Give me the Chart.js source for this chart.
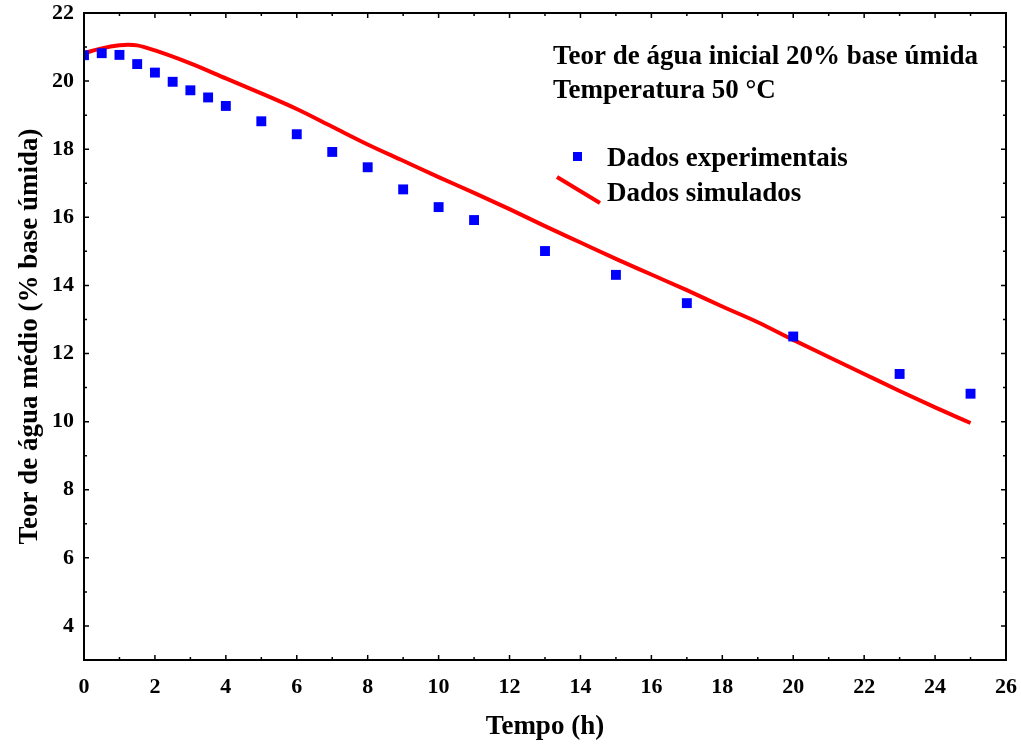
<!DOCTYPE html>
<html>
<head>
<meta charset="utf-8">
<script src="https://cdn.jsdelivr.net/npm/chart.js@4.4.1/dist/chart.umd.min.js"></script>
<style>
  html, body { margin: 0; padding: 0; background: #fff; }
  #wrap { width: 1021px; height: 744px; }
</style>
</head>
<body>
<div id="wrap"><canvas id="myChart" width="1021" height="744"></canvas></div>
<script>
// experimental points
var expTime = [0, 0.5, 1, 1.5, 2, 2.5, 3, 3.5, 4, 5, 6, 7, 8, 9, 10, 11, 13, 15, 17, 20, 23, 25];
var expMoisture = [20.76, 20.82, 20.77, 20.50, 20.25, 19.98, 19.73, 19.52, 19.27, 18.82, 18.44, 17.92, 17.47, 16.82, 16.30, 15.92, 15.01, 14.31, 13.48, 12.50, 11.40, 10.82];

// simulated curve
var simTime = [0, 0.5, 1, 1.25, 1.5, 2, 3, 4, 5, 6, 7, 8, 9, 10, 11, 12, 13, 14, 15, 16, 17, 18, 19, 20, 21, 22, 23, 24, 25];
var simMoisture = [20.82, 20.96, 21.05, 21.07, 21.05, 20.90, 20.52, 20.08, 19.64, 19.18, 18.66, 18.14, 17.66, 17.18, 16.72, 16.24, 15.74, 15.26, 14.78, 14.32, 13.86, 13.38, 12.92, 12.40, 11.90, 11.40, 10.90, 10.42, 9.96];

var xTicks = [0, 2, 4, 6, 8, 10, 12, 14, 16, 18, 20, 22, 24, 26];
var yTicks = [4, 6, 8, 10, 12, 14, 16, 18, 20, 22];

var seriesNames = ["Dados experimentais", "Dados simulados"];
var infoLines = ["Teor de água inicial 20% base úmida", "Temperatura 50 °C"];

var serif = "'Liberation Serif', 'Times New Roman', serif";

function toXY(xs, ys) {
  return xs.map(function (v, i) { return { x: v, y: ys[i] }; });
}

// box, inward ticks, info text and legend
var frame = {
  id: "frame",
  afterDatasetsDraw: function (chart) {
    var ctx = chart.ctx;
    var a = chart.chartArea;
    var sx = chart.scales.x;
    var sy = chart.scales.y;
    ctx.save();
    ctx.strokeStyle = "#000";
    ctx.lineWidth = 2;
    ctx.strokeRect(a.left, a.top, a.right - a.left, a.bottom - a.top);

    ctx.lineWidth = 1.5;
    ctx.beginPath();
    for (var t = 1; t < 26; t++) {
      var len = (t % 2 === 0) ? 5 : 3;
      var px = sx.getPixelForValue(t);
      ctx.moveTo(px, a.bottom); ctx.lineTo(px, a.bottom - len);
      ctx.moveTo(px, a.top); ctx.lineTo(px, a.top + len);
    }
    for (var v = 4; v < 22; v++) {
      var len2 = (v % 2 === 0) ? 5 : 3;
      var py = sy.getPixelForValue(v);
      ctx.moveTo(a.left, py); ctx.lineTo(a.left + len2, py);
      ctx.moveTo(a.right, py); ctx.lineTo(a.right - len2, py);
    }
    ctx.stroke();

    ctx.fillStyle = "#000";
    ctx.font = "bold 27px " + serif;
    ctx.textAlign = "left";
    ctx.textBaseline = "alphabetic";
    ctx.fillText(infoLines[0], 553, 64);
    ctx.fillText(infoLines[1], 553, 98);

    // legend
    ctx.fillStyle = "#0000ff";
    ctx.fillRect(573, 152, 9, 9);
    ctx.strokeStyle = "#ff0000";
    ctx.lineWidth = 4;
    ctx.beginPath();
    ctx.moveTo(557, 177);
    ctx.lineTo(600, 203);
    ctx.stroke();
    ctx.fillStyle = "#000";
    ctx.fillText(seriesNames[0], 607, 166);
    ctx.fillText(seriesNames[1], 607, 201);
    ctx.restore();
  }
};

new Chart("myChart", {
  type: "scatter",
  data: {
    datasets: [{
      label: seriesNames[0],
      data: toXY(expTime, expMoisture),
      pointStyle: "rect",
      pointRadius: 7,
      pointHoverRadius: 7,
      backgroundColor: "#0000ff",
      borderColor: "#0000ff",
      borderWidth: 0,
      showLine: false
    }, {
      label: seriesNames[1],
      data: toXY(simTime, simMoisture),
      showLine: true,
      pointRadius: 0,
      borderColor: "#ff0000",
      borderWidth: 4,
      cubicInterpolationMode: "monotone",
      fill: false
    }]
  },
  options: {
    responsive: false,
    animation: false,
    events: [],
    layout: { padding: { left: 0, right: 15, top: 13, bottom: 0 } },
    plugins: {
      legend: { display: false },
      tooltip: { enabled: false }
    },
    scales: {
      x: {
        type: "linear",
        min: 0,
        max: 26,
        afterBuildTicks: function (s) { s.ticks = xTicks.map(function (v) { return { value: v }; }); },
        afterFit: function (s) { s.height = 84; s.paddingLeft = 0; s.paddingRight = 0; },
        grid: { display: false, drawTicks: false },
        border: { display: false },
        ticks: { color: "#000", padding: 14, font: { family: serif, size: 22, weight: "bold" } },
        title: {
          display: true,
          text: "Tempo (h)",
          color: "#000",
          padding: { top: 0, bottom: 1 },
          font: { family: serif, size: 27, weight: "bold" }
        }
      },
      y: {
        type: "linear",
        min: 3,
        max: 22,
        afterBuildTicks: function (s) { s.ticks = yTicks.map(function (v) { return { value: v }; }); },
        afterFit: function (s) { s.width = 84; s.paddingTop = 0; s.paddingBottom = 0; },
        grid: { display: false, drawTicks: false },
        border: { display: false },
        ticks: { color: "#000", padding: 10, font: { family: serif, size: 22, weight: "bold" } },
        title: {
          display: true,
          text: "Teor de água médio (% base úmida)",
          color: "#000",
          padding: { top: 14, bottom: 0 },
          font: { family: serif, size: 27, weight: "bold" }
        }
      }
    }
  },
  plugins: [frame]
});
</script>
</body>
</html>
